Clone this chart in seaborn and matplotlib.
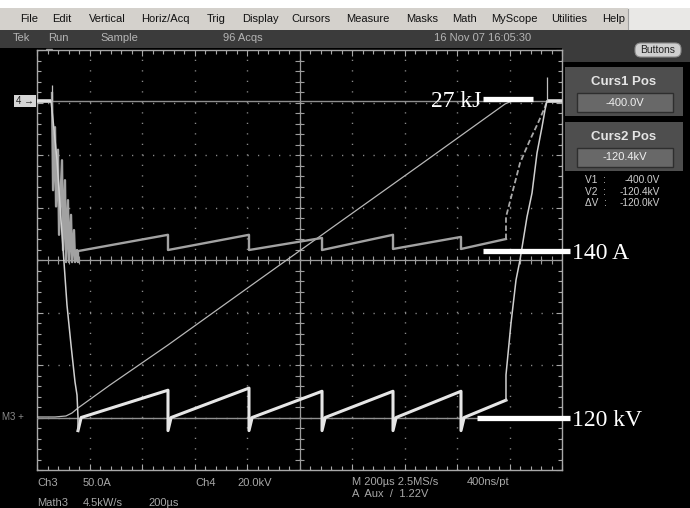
import numpy as np
import pandas as pd
import matplotlib
matplotlib.use('Agg')
import matplotlib.pyplot as plt
from matplotlib.patches import Rectangle, FancyBboxPatch
import seaborn as sns

# screen units: time in divisions (200 us/div), amplitude in divisions (-4..4)
cut_t = [0.781, 2.495, 4.038, 5.429, 6.781, 8.076, 8.933]

# Ch3 (upper sawtooth)
ch3_band_t = [0.286, 0.343, 0.40, 0.476, 0.533, 0.590, 0.648, 0.705, 0.762]
ch3_band_top = [3.18, 2.53, 2.10, 1.90, 1.52, 1.14, 0.86, 0.57, 0.19]
ch3_band_bot = [1.33, 1.02, 0.48, 0.19, -0.04, -0.04, -0.04, -0.04, -0.04]
ch3_start = [0.17, 0.19, 0.19, 0.19, 0.21, 0.21]
ch3_end = [0.48, 0.48, 0.42, 0.48, 0.44, 0.40]
ch3_rise_t = [8.933, 8.933, 9.067, 9.20, 9.39, 9.543, 9.676, 9.714]
ch3_rise_v = [0.40, 0.819, 1.333, 1.848, 2.286, 2.61, 2.914, 3.03]

# Ch4 (voltage, lower sawtooth)
ch4_flat_from = [0.0, 9.714]
ch4_flat_to = [0.267, 10.0]
ch4_level = 3.03
ch4_fall_t = [0.267, 0.305, 0.381, 0.457, 0.514, 0.571, 0.648, 0.724, 0.762, 0.781]
ch4_fall_v = [3.03, 2.667, 1.905, 0.762, -0.038, -0.857, -1.619, -2.324, -2.571, -2.99]
ch4_dip = -3.25
ch4_floor = -3.0
ch4_end = [-2.48, -2.44, -2.50, -2.50, -2.50, -2.67]
ch4_rise_t = [8.933, 8.933, 9.029, 9.124, 9.2, 9.333, 9.429, 9.524, 9.619, 9.676, 9.714]
ch4_rise_v = [-2.67, -2.19, -1.2, -0.381, 0.0, 0.819, 1.276, 2.038, 2.533, 2.857, 3.03]

# Math3 (energy)
math3_t = [0.0, 0.343, 0.552, 0.667, 0.781, 1.390, 2.495, 4.038, 5.771, 7.295, 8.914, 9.048]
math3_v = [-2.99, -2.99, -2.971, -2.914, -2.819, -2.381, -1.619, -0.514, 0.724, 1.810, 2.971, 3.03]

cursor_v = [3.03, -3.0]
spike_t = [0.286, 9.714]
spike_top = [3.33, 3.48]

labels = ['27 kJ', '140 A', '120 kV']
label_v = [3.07, 0.17, -3.01]
bar_from = [8.495, 8.495, 8.38]
bar_to = [9.448, 10.15, 10.15]

menu_items = ['File', 'Edit', 'Vertical', 'Horiz/Acq', 'Trig', 'Display', 'Cursors',
              'Measure', 'Masks', 'Math', 'MyScope', 'Utilities', 'Help']
menu_x = [20, 52, 89, 141, 207, 242, 291, 346, 406, 452, 491, 551, 602]

plt.rcParams['font.family'] = ['Liberation Sans', 'DejaVu Sans']

# build trace tables
t3, v3 = [], []
for t, top, bot in zip(ch3_band_t, ch3_band_top, ch3_band_bot):
    t3 += [t, t + 0.02]
    v3 += [top, bot]
for i in range(len(ch3_start)):
    t3 += [cut_t[i], cut_t[i + 1]]
    v3 += [ch3_start[i], ch3_end[i]]
ch3 = pd.DataFrame({'t': t3, 'v': v3})
ch3_rise = pd.DataFrame({'t': ch3_rise_t, 'v': ch3_rise_v})

t4, v4 = [], []
for i in range(len(ch4_end)):
    t4 += [cut_t[i], cut_t[i] + 0.06, cut_t[i + 1]]
    v4 += [ch4_dip, ch4_floor, ch4_end[i]]
ch4 = pd.DataFrame({'t': t4, 'v': v4})
ch4_fall = pd.DataFrame({'t': ch4_fall_t + [cut_t[0]], 'v': ch4_fall_v + [ch4_dip]})
ch4_rise = pd.DataFrame({'t': ch4_rise_t, 'v': ch4_rise_v})

math3 = pd.DataFrame({'t': math3_t, 'v': math3_v})

fig = plt.figure(figsize=(6.9, 5.08), dpi=100, facecolor='black')

# screen furniture in pixel coordinates
bg = fig.add_axes([0, 0, 1, 1], zorder=0)
bg.set_xlim(0, 690)
bg.set_ylim(508, 0)
bg.axis('off')
bg.add_patch(Rectangle((0, 0), 690, 8, fc='white', ec='none'))
bg.add_patch(Rectangle((0, 8), 628, 22, fc='#d4d1cc', ec='none'))
bg.add_patch(Rectangle((628, 8), 62, 22, fc='#e9e8e6', ec='none'))
bg.plot([628, 628], [9, 29], color='#a0a0a0', lw=0.8)
for name, x in zip(menu_items, menu_x):
    bg.text(x, 19, name, fontsize=8, color='#111111', ha='left', va='center')

bg.add_patch(Rectangle((0, 30), 690, 18, fc='#3b3b3b', ec='none'))
bg.add_patch(Rectangle((562, 48), 128, 14, fc='#3b3b3b', ec='none'))
for txt, x in [('Tek', 13), ('Run', 48), ('Sample', 100), ('96 Acqs', 223),
               ('16 Nov 07 16:05:30', 434)]:
    bg.text(x, 38, txt, fontsize=8, color='#b5b5b5', ha='left', va='center')

bg.add_patch(FancyBboxPatch((635, 43), 46, 14, boxstyle='round,pad=0,rounding_size=6',
                            fc='#d0d0d0', ec='#8a8a8a', lw=0.8))
bg.text(658, 50, 'Buttons', fontsize=7.5, color='#222222', ha='center', va='center')

for y0, name, val in [(67, 'Curs1 Pos', '-400.0V'), (122, 'Curs2 Pos', '-120.4kV')]:
    bg.add_patch(Rectangle((565, y0), 118, 49, fc='#4e4e4e', ec='none'))
    bg.text(624, y0 + 15, name, fontsize=9.5, fontweight='bold', color='#e4e4e4',
            ha='center', va='center')
    bg.add_patch(Rectangle((577, y0 + 26), 96, 19, fc='#686868', ec='#2e2e2e', lw=1))
    bg.text(625, y0 + 35.5, val, fontsize=8, color='#f0f0f0', ha='center', va='center')

for y, name, val in [(180, 'V1  :', '-400.0V'), (192, 'V2  :', '-120.4kV'),
                     (203, 'ΔV  :', '-120.0kV')]:
    bg.text(585, y, name, fontsize=7.3, color='#cfcfcf', ha='left', va='center')
    bg.text(660, y, val, fontsize=7.3, color='#cfcfcf', ha='right', va='center')

bg.add_patch(Rectangle((14, 95), 22, 12, fc='#d6d6d6', ec='none'))
bg.text(25, 101.5, '4 →', fontsize=7, color='#222222', ha='center', va='center')
bg.text(2, 417, 'M3 +', fontsize=7, color='#8a8a8a', ha='left', va='center')
bg.plot(49, 52, marker='v', ms=5, color='#9a9a9a')

grey = '#a8a8a8'
for txt, x, y in [('Ch3', 37, 483), ('50.0A', 83, 483), ('Ch4', 195, 483),
                  ('20.0kV', 237, 483), ('Math3', 37, 503), ('4.5kW/s', 83, 503),
                  ('200µs', 148, 503), ('M 200µs 2.5MS/s', 352, 482),
                  ('400ns/pt', 467, 482), ('A  Aux  /  1.22V', 352, 494)]:
    bg.text(x, y, txt, fontsize=8, color=grey, ha='left', va='center')

# graticule
ax = fig.add_axes([37 / 690, 38 / 508, 525 / 690, 420 / 508], zorder=1)
ax.set_facecolor('black')
ax.set_xlim(0, 10)
ax.set_ylim(-4, 4)
ax.set_xticks(np.arange(0, 11))
ax.set_yticks(np.arange(-4, 5))
ax.set_xticks(np.arange(0, 10.01, 0.2), minor=True)
ax.set_yticks(np.arange(-4, 4.01, 0.2), minor=True)
ax.grid(True, which='major', color='#8a8a8a', linestyle=(0, (0.9, 6.66)), linewidth=1.0)
ax.tick_params(which='both', direction='in', top=True, right=True,
               labelbottom=False, labelleft=False, color=grey, width=0.8)
ax.tick_params(which='major', length=4.5)
ax.tick_params(which='minor', length=3.2)
for s in ax.spines.values():
    s.set_color(grey)
    s.set_linewidth(1)
ax.axhline(0, color='#9c9c9c', lw=0.9)
ax.axvline(5, color='#9c9c9c', lw=0.9)
ax.vlines(np.arange(0, 10.01, 0.2), -0.08, 0.08, color='#9c9c9c', lw=0.8)
ax.hlines(np.arange(-4, 4.01, 0.2), 4.92, 5.08, color='#9c9c9c', lw=0.8)

# cursors
for v in cursor_v:
    ax.axhline(v, color='#8f8f8f', lw=1.0, zorder=3)

# traces
sns.lineplot(data=math3, x='t', y='v', sort=False, estimator=None, ax=ax,
             color='#b8b8b8', linewidth=0.9, zorder=4)
sns.lineplot(data=ch3, x='t', y='v', sort=False, estimator=None, ax=ax,
             color='#a2a2a2', linewidth=1.7, zorder=5)
sns.lineplot(data=ch3_rise, x='t', y='v', sort=False, estimator=None, ax=ax,
             color='#a8a8a8', linewidth=1.3, linestyle=(0, (3, 1.5)), zorder=5)
sns.lineplot(data=ch4, x='t', y='v', sort=False, estimator=None, ax=ax,
             color='#e6e6e6', linewidth=2.2, zorder=6)
sns.lineplot(data=ch4_fall, x='t', y='v', sort=False, estimator=None, ax=ax,
             color='#d0d0d0', linewidth=1.1, zorder=6)
sns.lineplot(data=ch4_rise, x='t', y='v', sort=False, estimator=None, ax=ax,
             color='#d0d0d0', linewidth=1.1, zorder=6)
ax.hlines([ch4_level] * 2, ch4_flat_from, ch4_flat_to, color='#e0e0e0', lw=2.6, zorder=6)
ax.vlines(spike_t, cursor_v[0], spike_top, color='#c0c0c0', lw=0.9, zorder=6)
ax.set_xlabel('')
ax.set_ylabel('')

# annotations
for i, (lab, v, a, b) in enumerate(zip(labels, label_v, bar_from, bar_to)):
    ax.plot([a, b], [v, v], color='white', lw=3.8, solid_capstyle='butt',
            clip_on=False, zorder=10)
    if i == 0:
        ax.text(a - 0.04, v - 0.15, lab, family='Liberation Serif', fontsize=17,
                color='white', ha='right', va='baseline', zorder=10)
    else:
        ax.text(b + 0.04, v - 0.15, lab, family='Liberation Serif', fontsize=17,
                color='white', ha='left', va='baseline', zorder=10, clip_on=False)

fig.savefig('out.png', dpi=100, facecolor=fig.get_facecolor())
